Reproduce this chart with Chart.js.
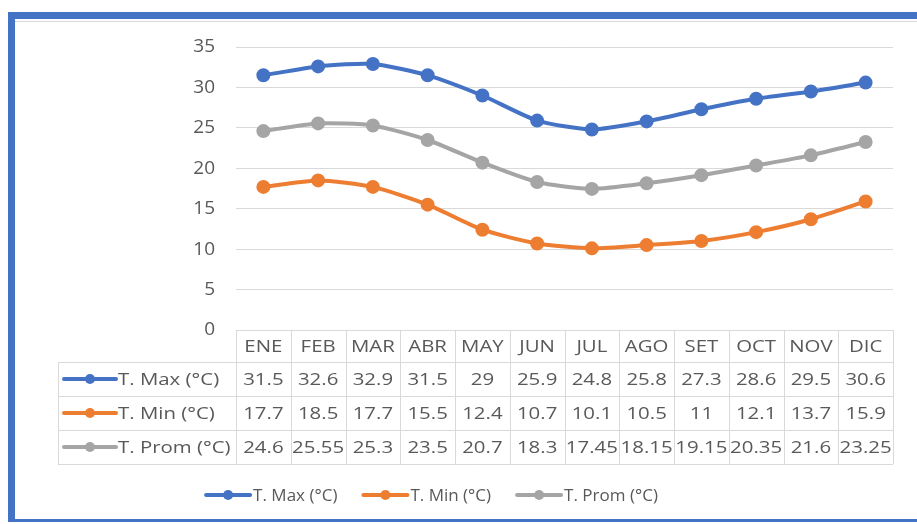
<!DOCTYPE html>
<html>
<head>
<meta charset="utf-8">
<script src="https://cdn.jsdelivr.net/npm/chart.js@4"></script>
<style>
  html, body { margin: 0; padding: 0; background: #fff; }
  #wrap { width: 917px; height: 524px; position: relative; }
</style>
</head>
<body>
<div id="wrap"><canvas id="chart" width="917" height="524"></canvas></div>
<script>
// data
const months = ["ENE", "FEB", "MAR", "ABR", "MAY", "JUN", "JUL", "AGO", "SET", "OCT", "NOV", "DIC"];
const tMax = [31.5, 32.6, 32.9, 31.5, 29, 25.9, 24.8, 25.8, 27.3, 28.6, 29.5, 30.6];
const tMin = [17.7, 18.5, 17.7, 15.5, 12.4, 10.7, 10.1, 10.5, 11, 12.1, 13.7, 15.9];
const tProm = [24.6, 25.55, 25.3, 23.5, 20.7, 18.3, 17.45, 18.15, 19.15, 20.35, 21.6, 23.25];
const seriesNames = ["T. Max (°C)", "T. Min (°C)", "T. Prom (°C)"];
const seriesColors = ["#4472C4", "#ED7D31", "#A5A5A5"];

const textColor = "#595959";
const gridColor = "#d9d9d9";
const fontFamily = "'Open Sans', 'Noto Sans', sans-serif";
const tableStretch = 1.2; // the table text in the picture is drawn wider

function drawKey(ctx, x1, x2, y, color) {
  ctx.save();
  ctx.strokeStyle = color;
  ctx.lineWidth = 4;
  ctx.lineCap = "round";
  ctx.beginPath();
  ctx.moveTo(x1, y);
  ctx.lineTo(x2, y);
  ctx.stroke();
  ctx.fillStyle = color;
  ctx.beginPath();
  ctx.arc((x1 + x2) / 2, y, 5, 0, Math.PI * 2);
  ctx.fill();
  ctx.restore();
}

function wideText(ctx, text, x, y, align) {
  ctx.save();
  ctx.translate(x, y);
  ctx.scale(tableStretch, 1);
  ctx.textAlign = align;
  ctx.fillText(text, 0, 0);
  ctx.restore();
}

// frame, data table and bottom legend
const excelExtras = {
  id: "excelExtras",
  beforeDraw(chart) {
    const ctx = chart.ctx;
    ctx.save();
    ctx.fillStyle = "#fff";
    ctx.fillRect(0, 0, chart.width, chart.height);
    ctx.fillStyle = "#4472C4";
    ctx.fillRect(8, 12, chart.width - 8, 7);
    ctx.fillRect(8, 12, 7, 510);
    ctx.fillRect(8, 519, chart.width - 8, 3);
    ctx.fillStyle = gridColor;
    ctx.fillRect(15, 21, chart.width - 15, 1);
    ctx.restore();
  },
  afterDraw(chart) {
    const ctx = chart.ctx;
    const area = chart.chartArea;
    const xs = chart.scales.x;
    const colW = (area.right - area.left) / months.length;
    const top = area.bottom;
    const headH = 32;
    const rowH = 34;
    const labelLeft = 58;
    const bottom = top + headH + rowH * 3;

    ctx.save();
    ctx.strokeStyle = gridColor;
    ctx.lineWidth = 1;
    ctx.beginPath();
    ctx.moveTo(area.left, top + 0.5);
    ctx.lineTo(area.right, top + 0.5);
    for (let r = 0; r <= 3; r++) {
      const y = Math.round(top + headH + r * rowH) + 0.5;
      ctx.moveTo(labelLeft, y);
      ctx.lineTo(area.right, y);
    }
    for (let i = 0; i <= months.length; i++) {
      const x = Math.round(area.left + i * colW) + 0.5;
      ctx.moveTo(x, top);
      ctx.lineTo(x, bottom);
    }
    ctx.moveTo(labelLeft + 0.5, top + headH);
    ctx.lineTo(labelLeft + 0.5, bottom);
    ctx.stroke();

    ctx.fillStyle = textColor;
    ctx.font = "17px " + fontFamily;
    ctx.textBaseline = "middle";
    months.forEach((m, i) => {
      wideText(ctx, m, xs.getPixelForValue(i), top + headH / 2 + 1, "center");
    });

    chart.data.datasets.forEach((ds, r) => {
      const cy = top + headH + rowH * r + rowH / 2 + 1;
      ds.data.forEach((v, i) => {
        wideText(ctx, String(v), xs.getPixelForValue(i), cy, "center");
      });
      drawKey(ctx, 64, 116, cy - 1, ds.borderColor);
      wideText(ctx, ds.label, 118, cy, "left");
    });

    // bottom legend
    const lineLen = 44;
    const gap = 3;
    const spacing = 26;
    ctx.textAlign = "left";
    const widths = chart.data.datasets.map(ds => lineLen + gap + ctx.measureText(ds.label).width);
    const total = widths.reduce((a, b) => a + b, 0) + spacing * (widths.length - 1);
    let lx = 432 - total / 2;
    const ly = 495;
    chart.data.datasets.forEach((ds, i) => {
      drawKey(ctx, lx, lx + lineLen, ly, ds.borderColor);
      ctx.fillText(ds.label, lx + lineLen + gap, ly + 1);
      lx += widths[i] + spacing;
    });
    ctx.restore();
  }
};

const seriesData = [tMax, tMin, tProm];

new Chart(document.getElementById("chart").getContext("2d"), {
  type: "line",
  data: {
    labels: months,
    datasets: seriesData.map((d, i) => ({
      label: seriesNames[i],
      data: d,
      borderColor: seriesColors[i],
      backgroundColor: seriesColors[i],
      borderWidth: 4,
      pointRadius: 5,
      pointHoverRadius: 5,
      tension: 0.22,
      fill: false
    }))
  },
  options: {
    responsive: false,
    animation: false,
    layout: { padding: { left: 0, right: 24, top: 47, bottom: 194 } },
    plugins: {
      legend: { display: false },
      tooltip: { enabled: false }
    },
    scales: {
      x: {
        offset: true,
        display: false
      },
      y: {
        min: 0,
        max: 35,
        ticks: {
          stepSize: 5,
          color: textColor,
          font: { size: 19, family: fontFamily },
          padding: 21
        },
        grid: { color: gridColor, drawTicks: false },
        border: { display: false },
        afterFit(scale) { scale.width = 236; }
      }
    }
  },
  plugins: [excelExtras]
});
</script>
</body>
</html>
